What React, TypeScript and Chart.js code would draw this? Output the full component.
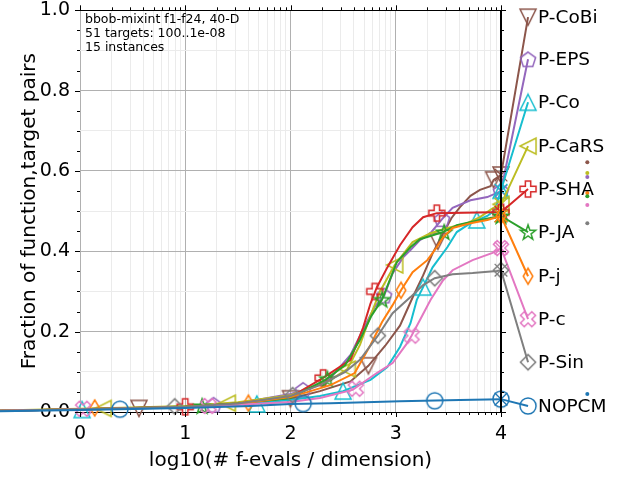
import React, { useEffect, useRef } from 'react';
import { Chart, registerables } from 'chart.js';
Chart.register(...registerables);

type Pt = [number, number];

// ---- data (x = log10(#f-evals/dim), y = fraction of function,target pairs) ----
const curveCoBi: Pt[] = [[-0.76,0.003],[0,0.007],[0.5,0.01],[1,0.013],[1.5,0.02],[2,0.033],[2.28,0.052],[2.57,0.076],[2.74,0.115],[2.9,0.165],[3.04,0.215],[3.16,0.285],[3.26,0.34],[3.35,0.395],[3.42,0.43],[3.53,0.483],[3.61,0.51],[3.71,0.538],[3.8,0.553],[3.9,0.562],[3.93,0.578],[4.0,0.59]];
const curveEPS: Pt[] = [[-0.76,0.003],[0,0.007],[0.5,0.01],[1,0.014],[1.5,0.022],[2,0.045],[2.2,0.06],[2.38,0.085],[2.57,0.142],[2.71,0.216],[2.8,0.262],[2.89,0.29],[2.97,0.345],[3.07,0.385],[3.14,0.403],[3.23,0.428],[3.33,0.445],[3.44,0.48],[3.54,0.508],[3.71,0.527],[3.87,0.535],[4.0,0.55]];
const curveCo: Pt[] = [[-0.76,0.003],[0,0.006],[0.5,0.009],[1,0.012],[1.5,0.018],[2,0.03],[2.28,0.04],[2.5,0.052],[2.76,0.08],[2.92,0.112],[3.04,0.162],[3.14,0.221],[3.2,0.279],[3.26,0.311],[3.35,0.36],[3.49,0.41],[3.58,0.448],[3.71,0.47],[3.87,0.488],[3.94,0.502],[4.0,0.552]];
const curveCaRS: Pt[] = [[-0.76,0.004],[0,0.008],[0.5,0.011],[1,0.015],[1.5,0.024],[2,0.042],[2.38,0.08],[2.54,0.107],[2.66,0.167],[2.76,0.24],[2.85,0.3],[2.99,0.366],[3.16,0.423],[3.33,0.445],[3.49,0.458],[3.68,0.47],[3.8,0.485],[3.92,0.507],[4.0,0.517]];
const curveSHA: Pt[] = [[-0.76,0.003],[0,0.007],[0.5,0.01],[1,0.013],[1.5,0.021],[2,0.037],[2.31,0.085],[2.57,0.13],[2.69,0.21],[2.76,0.27],[2.82,0.31],[2.92,0.36],[3.04,0.415],[3.16,0.46],[3.26,0.485],[3.39,0.495],[3.92,0.497],[4.0,0.497]];
const curveJA: Pt[] = [[-0.76,0.003],[0,0.007],[0.5,0.01],[1,0.014],[1.5,0.021],[2,0.035],[2.33,0.08],[2.52,0.117],[2.66,0.18],[2.77,0.24],[2.87,0.28],[3.01,0.373],[3.14,0.41],[3.23,0.43],[3.45,0.448],[3.58,0.465],[3.8,0.478],[4.0,0.488]];
const curveJ: Pt[] = [[-0.76,0.003],[0,0.007],[0.5,0.01],[1,0.013],[1.5,0.02],[2,0.037],[2.38,0.067],[2.61,0.097],[2.76,0.167],[2.87,0.224],[2.97,0.266],[3.05,0.303],[3.16,0.348],[3.3,0.378],[3.39,0.41],[3.45,0.435],[3.54,0.458],[3.71,0.47],[3.87,0.478],[4.0,0.488]];
const curveC: Pt[] = [[-0.76,0.003],[0,0.006],[0.5,0.009],[1,0.012],[1.5,0.018],[2,0.025],[2.28,0.035],[2.59,0.055],[2.82,0.097],[2.97,0.122],[3.11,0.172],[3.15,0.19],[3.23,0.229],[3.33,0.279],[3.45,0.328],[3.54,0.353],[3.73,0.378],[3.92,0.396],[4.0,0.408]];
const curveSin: Pt[] = [[-0.76,0.003],[0,0.007],[0.5,0.01],[1,0.013],[1.5,0.021],[2,0.04],[2.28,0.067],[2.52,0.1],[2.66,0.13],[2.83,0.19],[2.97,0.246],[3.14,0.286],[3.26,0.316],[3.37,0.333],[3.54,0.343],[3.73,0.346],[3.96,0.351],[4.0,0.353]];
const curveNOPCM: Pt[] = [[-0.76,0.002],[0,0.005],[1,0.01],[1.62,0.015],[2,0.02],[2.38,0.022],[3.04,0.027],[3.61,0.03],[4.0,0.032]];

const markCoBi: Pt[] = [[0.56,0.009],[2.0,0.033],[2.74,0.115],[3.4,0.425],[3.93,0.578],[4.0,0.59]];
const markEPS: Pt[] = [[1.27,0.018],[2.12,0.055],[2.89,0.29],[3.44,0.48],[4.0,0.55]];
const markCo: Pt[] = [[0.02,0.006],[1.68,0.02],[2.5,0.052],[3.26,0.311],[3.77,0.478],[4.0,0.552]];
const markCaRS: Pt[] = [[0.22,0.009],[1.4,0.022],[2.54,0.107],[2.99,0.366],[4.0,0.517]];
const markSHA: Pt[] = [[1.0,0.013],[2.31,0.085],[2.8,0.3],[3.39,0.495],[4.0,0.497]];
const markJA: Pt[] = [[1.16,0.015],[2.35,0.083],[2.87,0.28],[3.46,0.448],[4.0,0.488]];
const markJ: Pt[] = [[0.14,0.01],[1.6,0.022],[3.05,0.303],[4.0,0.488]];
const markC: Pt[] = [[0.03,0.008],[1.22,0.015],[2.62,0.058],[3.15,0.19],[4.0,0.408]];
const markSin: Pt[] = [[0.9,0.014],[2.02,0.042],[2.83,0.19],[3.37,0.333],[4.0,0.353]];
const markNOPCM: Pt[] = [[0.38,0.007],[2.12,0.021],[3.37,0.028],[4.0,0.032]];

const seriesNames = ['P-CoBi', 'P-EPS', 'P-Co', 'P-CaRS', 'P-SHA', 'P-JA', 'P-j', 'P-c', 'P-Sin', 'NOPCM'];
const seriesColors = ['#8c564b', '#9467bd', '#17becf', '#bcbd22', '#d62728', '#2ca02c', '#ff7f0e', '#e377c2', '#7f7f7f', '#1f77b4'];
const seriesShapes = ['tridown', 'pentagon', 'triup', 'trileft', 'plus', 'star', 'thindiamond', 'xfilled', 'diamond', 'circle'];
const seriesCurves = [curveCoBi, curveEPS, curveCo, curveCaRS, curveSHA, curveJA, curveJ, curveC, curveSin, curveNOPCM];
const seriesMarks = [markCoBi, markEPS, markCo, markCaRS, markSHA, markJA, markJ, markC, markSin, markNOPCM];
const labelYs = [0.983, 0.878, 0.771, 0.662, 0.555, 0.448, 0.338, 0.231, 0.124, 0.015];
const dotYs: (number | null)[] = [0.622, 0.585, null, 0.595, null, 0.537, 0.545, 0.515, 0.47, 0.045];
const LABEL_X = 4.257;
const DOT_X = 4.82;
const X_MIN = 0;
const X_MAX = 4;
const xTickLabels = ['0', '1', '2', '3', '4'];
const infoLines = ['bbob-mixint f1-f24, 40-D', '51 targets: 100..1e-08', '15 instances'];
const xTitle = 'log10(# f-evals / dimension)';
const yTitle = 'Fraction of function,target pairs';

const FONT = '"DejaVu Sans", "Liberation Sans", sans-serif';

function makeMarker(shape: string, color: string, size = 20, lw = 1.5): HTMLCanvasElement {
  const c = document.createElement('canvas');
  c.width = size;
  c.height = size;
  const g = c.getContext('2d')!;
  g.strokeStyle = color;
  g.lineWidth = lw;
  g.lineJoin = 'miter';
  const cx = size / 2;
  const cy = size / 2;
  const r = size / 2 - lw - 0.5;
  const poly = (pts: [number, number][]) => {
    g.beginPath();
    pts.forEach(([px, py], i) => (i === 0 ? g.moveTo(cx + px, cy + py) : g.lineTo(cx + px, cy + py)));
    g.closePath();
    g.stroke();
  };
  const a = r / 3;
  const plusPts: [number, number][] = [[-a,-r],[a,-r],[a,-a],[r,-a],[r,a],[a,a],[a,r],[-a,r],[-a,a],[-r,a],[-r,-a],[-a,-a]];
  switch (shape) {
    case 'triup': poly([[0,-r],[r,r],[-r,r]]); break;
    case 'tridown': poly([[-r,-r],[r,-r],[0,r]]); break;
    case 'trileft': poly([[-r,0],[r,-r],[r,r]]); break;
    case 'pentagon': {
      const pts: [number, number][] = [];
      for (let k = 0; k < 5; k++) {
        const ang = -Math.PI / 2 + (k * 2 * Math.PI) / 5;
        pts.push([r * Math.cos(ang), r * Math.sin(ang) + r * 0.1]);
      }
      poly(pts);
      break;
    }
    case 'star': {
      const pts: [number, number][] = [];
      for (let k = 0; k < 10; k++) {
        const ang = -Math.PI / 2 + (k * Math.PI) / 5;
        const rr = k % 2 === 0 ? r : r * 0.4;
        pts.push([rr * Math.cos(ang), rr * Math.sin(ang) + r * 0.1]);
      }
      poly(pts);
      break;
    }
    case 'plus': poly(plusPts); break;
    case 'xfilled': {
      const s = Math.SQRT1_2;
      poly(plusPts.map(([px, py]) => [(px - py) * s, (px + py) * s] as [number, number]));
      break;
    }
    case 'diamond': {
      const d = r * 0.95;
      poly([[0,-d],[d,0],[0,d],[-d,0]]);
      break;
    }
    case 'thindiamond': poly([[0,-r],[r*0.6,0],[0,r],[-r*0.6,0]]); break;
    default:
      g.beginPath();
      g.arc(cx, cy, r, 0, Math.PI * 2);
      g.stroke();
  }
  return c;
}

const xTickValues: number[] = [];
for (let d = 0; d < 4; d++) {
  for (let k = 1; k < 10; k++) xTickValues.push(d + Math.log10(k));
}
xTickValues.push(4);
const isInt = (v: number) => Math.abs(v - Math.round(v)) < 1e-9;

const clipArea = { left: 80, top: 10, right: 139, bottom: 10 };

export default function App() {
  const ref = useRef<HTMLCanvasElement | null>(null);
  useEffect(() => {
    document.body.style.margin = '0';
    const canvas = ref.current!;
    const markers = seriesShapes.map((s, i) => makeMarker(s, seriesColors[i]));
    const datasets: any[] = [];
    for (let i = seriesNames.length - 1; i >= 0; i--) {
      const color = seriesColors[i];
      datasets.push({
        label: seriesNames[i],
        data: [...seriesCurves[i].map(([x, y]) => ({ x, y })), { x: LABEL_X, y: labelYs[i] }],
        showLine: true,
        borderColor: color,
        borderWidth: 2,
        pointRadius: 0,
        clip: clipArea,
      });
      datasets.push({
        label: seriesNames[i] + ' markers',
        data: seriesMarks[i].map(([x, y]) => ({ x, y })),
        showLine: false,
        pointStyle: markers[i],
        clip: clipArea,
      });
      const last = seriesCurves[i][seriesCurves[i].length - 1];
      datasets.push({
        label: seriesNames[i] + ' end',
        data: [{ x: last[0], y: last[1] }],
        showLine: false,
        pointStyle: 'crossRot',
        pointRadius: 9,
        borderColor: color,
        borderWidth: 1.3,
        clip: clipArea,
      });
    }

    const decor = {
      id: 'decor',
      afterDatasetsDraw(chart: any) {
        const { ctx, chartArea: ca, scales } = chart;
        const xs = scales.x;
        const ys = scales.y;
        ctx.save();
        // markers outside the plot frame (label markers and small dots)
        for (let i = seriesNames.length - 1; i >= 0; i--) {
          const m = markers[i];
          const px = xs.getPixelForValue(LABEL_X);
          const py = ys.getPixelForValue(labelYs[i]);
          ctx.drawImage(m, px - m.width / 2, py - m.height / 2);
          const dy = dotYs[i];
          if (dy !== null) {
            ctx.fillStyle = seriesColors[i];
            ctx.beginPath();
            ctx.arc(xs.getPixelForValue(DOT_X), ys.getPixelForValue(dy), 2, 0, Math.PI * 2);
            ctx.fill();
          }
        }
        ctx.strokeStyle = '#000';
        ctx.lineWidth = 1;
        ctx.beginPath();
        ctx.moveTo(ca.left, Math.round(ca.top) + 0.5);
        ctx.lineTo(ca.right, Math.round(ca.top) + 0.5);
        ctx.stroke();
        for (let i = 0; i <= 20; i++) {
          const py = Math.round(ys.getPixelForValue(i / 20)) + 0.5;
          const len = i % 4 === 0 ? 5 : 3;
          ctx.beginPath();
          ctx.moveTo(ca.left - len, py);
          ctx.lineTo(ca.left, py);
          ctx.moveTo(ca.right, py);
          ctx.lineTo(ca.right + len, py);
          ctx.stroke();
        }
        xTickValues.forEach((v) => {
          const px = Math.round(xs.getPixelForValue(v)) + 0.5;
          const len = isInt(v) ? 5 : 3;
          ctx.beginPath();
          ctx.moveTo(px, ca.bottom);
          ctx.lineTo(px, ca.bottom + len);
          ctx.moveTo(px, ca.top);
          ctx.lineTo(px, ca.top - len);
          ctx.stroke();
        });
        ctx.lineWidth = 2;
        ctx.beginPath();
        ctx.moveTo(ca.right, ca.top);
        ctx.lineTo(ca.right, ca.bottom);
        ctx.stroke();
        ctx.fillStyle = '#000';
        ctx.font = '18.5px ' + FONT;
        ctx.textAlign = 'left';
        ctx.textBaseline = 'middle';
        seriesNames.forEach((n, i) => {
          ctx.fillText(n, xs.getPixelForValue(LABEL_X) + 10, ys.getPixelForValue(labelYs[i]) + 1);
        });
        ctx.font = '12.5px ' + FONT;
        ctx.textBaseline = 'alphabetic';
        infoLines.forEach((t, i) => ctx.fillText(t, ca.left + 5, ca.top + 13 + i * 14));
        ctx.restore();
      },
    };

    const chart = new Chart(canvas, {
      type: 'scatter',
      data: { datasets },
      options: {
        responsive: false,
        animation: false,
        events: [],
        layout: { padding: { top: 10, right: 139, left: 0, bottom: 0 } },
        plugins: { legend: { display: false }, tooltip: { enabled: false } },
        scales: {
          x: {
            type: 'linear',
            bounds: 'data',
            afterDataLimits: (s: any) => { s.min = X_MIN; s.max = X_MAX; },
            afterFit: (s: any) => { s.height = 68; s.paddingLeft = 0; s.paddingRight = 0; },
            afterBuildTicks: (s: any) => {
              s.min = X_MIN;
              s.max = X_MAX;
              s.ticks = xTickValues.map((v) => ({ value: v }));
            },
            ticks: {
              autoSkip: false,
              maxRotation: 0,
              padding: 6,
              color: '#000',
              font: { family: FONT, size: 19 },
              callback: (v: any) => (isInt(Number(v)) ? xTickLabels[Math.round(Number(v))] : ''),
            },
            grid: {
              color: (c: any) => (c.tick && isInt(c.tick.value) ? '#b0b0b0' : '#ebebeb'),
              lineWidth: 1,
              tickLength: 5,
              tickColor: 'rgba(0,0,0,0)',
            },
            border: { display: true, color: '#000', width: 1 },
            title: {
              display: true,
              text: xTitle,
              color: '#000',
              font: { family: FONT, size: 20, lineHeight: 1.2 },
              padding: { top: 0, bottom: 7 },
            },
          },
          y: {
            type: 'linear',
            min: 0,
            max: 1,
            afterFit: (s: any) => { s.width = 80; s.paddingTop = 0; s.paddingBottom = 0; },
            afterBuildTicks: (s: any) => {
              const t: any[] = [];
              for (let i = 0; i <= 20; i++) t.push({ value: i / 20 });
              s.ticks = t;
            },
            ticks: {
              autoSkip: false,
              padding: 5,
              color: '#000',
              font: { family: FONT, size: 19 },
              callback: (v: any, idx: number) => (idx % 4 === 0 ? Number(v).toFixed(1) : ''),
            },
            grid: {
              color: (c: any) => (c.index % 4 === 0 ? '#b0b0b0' : c.index % 2 === 0 ? '#ebebeb' : 'rgba(0,0,0,0)'),
              lineWidth: 1,
              tickLength: 5,
              tickColor: 'rgba(0,0,0,0)',
            },
            border: { display: false },
            title: {
              display: true,
              text: yTitle,
              color: '#000',
              font: { family: FONT, size: 20, lineHeight: 1.2 },
              padding: { top: 18, bottom: 0 },
            },
          },
        },
      } as any,
      plugins: [decor],
    });
    return () => chart.destroy();
  }, []);
  return <canvas ref={ref} width={640} height={480} style={{ display: 'block', width: 640, height: 480 }} />;
}
